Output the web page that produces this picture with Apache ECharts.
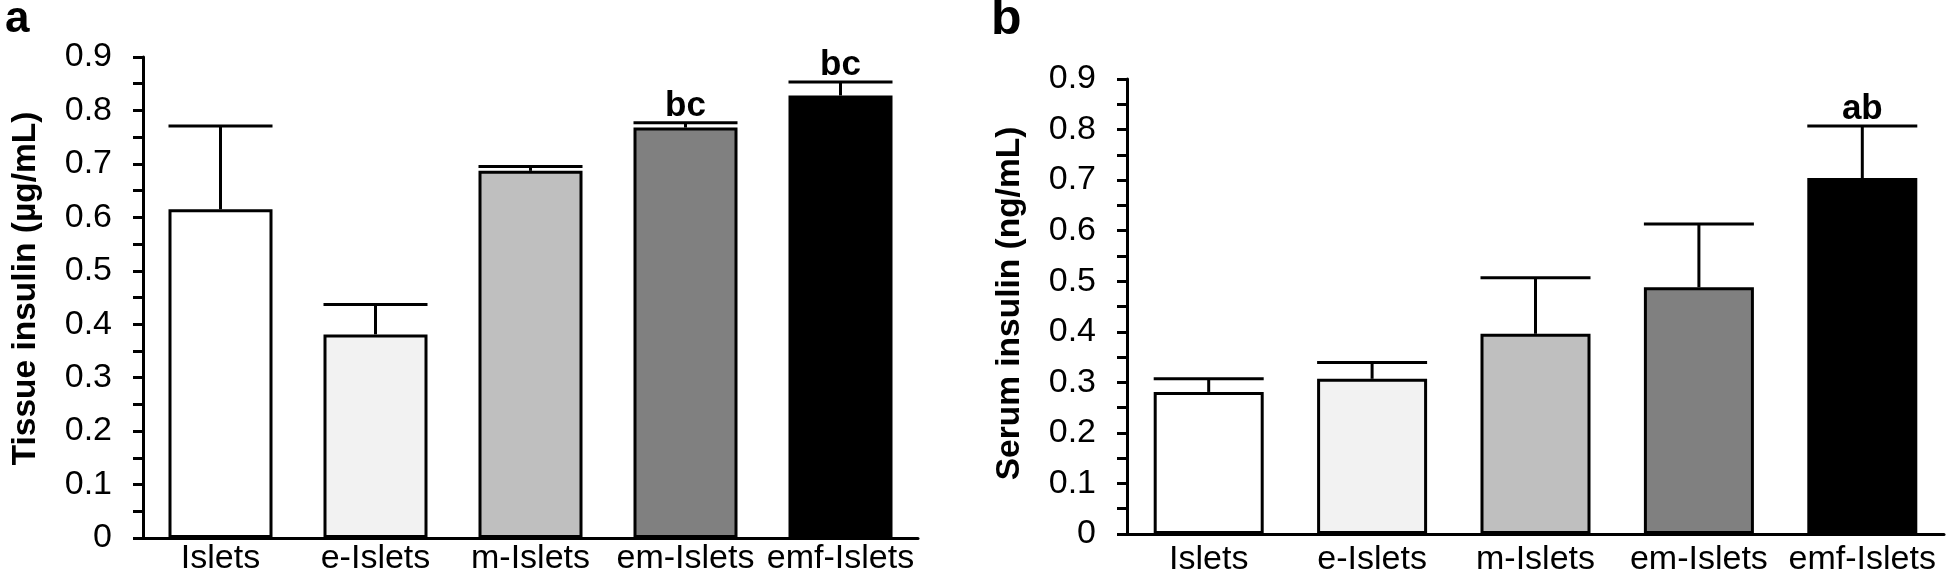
<!DOCTYPE html>
<html>
<head>
<meta charset="utf-8">
<script src="https://cdn.jsdelivr.net/npm/echarts@6/dist/echarts.min.js"></script>
<style>html,body{margin:0;padding:0;background:#fff;}#c{width:1946px;height:582px;}</style>
</head>
<body>
<div id="c"></div>
<script>
const categories = ['Islets', 'e-Islets', 'm-Islets', 'em-Islets', 'emf-Islets'];
const barColors = ['#ffffff', '#f2f2f2', '#bfbfbf', '#808080', '#000000'];
const yTicksMax = 0.9;
const yTickStep = 0.1;

// Panel a: tissue insulin (µg/mL)
const tissueMean = [0.615, 0.381, 0.687, 0.768, 0.828];
const tissueErr  = [0.156, 0.056, 0.008, 0.009, 0.025];
const tissueSig  = ['', '', '', 'bc', 'bc'];

// Panel b: serum insulin (ng/mL)
const serumMean = [0.281, 0.307, 0.396, 0.488, 0.704];
const serumErr  = [0.026, 0.032, 0.111, 0.125, 0.103];
const serumSig  = ['', '', '', '', 'ab'];

const FONT = "'Liberation Sans', Arial, Helvetica, sans-serif";

function barData(vals) {
  return vals.map((v, i) => ({
    value: v,
    itemStyle: { color: barColors[i], borderColor: '#000', borderWidth: 3 }
  }));
}

function errSeries(gi, means, errs, sigs, bw) {
  return {
    type: 'custom',
    xAxisIndex: gi, yAxisIndex: gi,
    z: 5,
    data: means.map((m, i) => [i, m, errs[i]]),
    encode: { x: 0, y: 1 },
    renderItem: function (params, api) {
      const base = api.coord([api.value(0), api.value(1)]);
      const top = api.coord([api.value(0), api.value(1) + api.value(2)]);
      const h = bw / 2;
      const st = { stroke: '#000', lineWidth: 3 };
      const children = [
        { type: 'line', shape: { x1: base[0], y1: base[1], x2: base[0], y2: top[1] }, style: st },
        { type: 'line', shape: { x1: base[0] - h, y1: top[1], x2: base[0] + h, y2: top[1] }, style: st }
      ];
      const s = sigs[params.dataIndex];
      if (s) {
        children.push({
          type: 'text',
          style: {
            text: s, x: base[0], y: top[1] + 1,
            align: 'center', verticalAlign: 'bottom',
            font: 'bold 35px ' + FONT, fill: '#000'
          }
        });
      }
      return { type: 'group', children: children };
    }
  };
}

function yAxisDef(gi, name, pad) {
  return {
    type: 'value', gridIndex: gi, min: 0, max: yTicksMax, interval: yTickStep,
    name: name, nameLocation: 'middle', nameGap: 100,
    nameTextStyle: { fontFamily: FONT, fontWeight: 'bold', fontSize: 33.5, color: '#000', padding: pad },
    axisLine: { show: true, lineStyle: { color: '#000', width: 3 } },
    axisTick: { show: true, length: 10, lineStyle: { color: '#000', width: 3 } },
    minorTick: { show: true, splitNumber: 2, length: 10, lineStyle: { color: '#000', width: 3 } },
    splitLine: { show: false },
    axisLabel: { fontFamily: FONT, fontSize: 34, color: '#000', margin: 31 }
  };
}

function xAxisDef(gi, margin) {
  return {
    type: 'category', gridIndex: gi, data: categories,
    axisLine: { show: true, lineStyle: { color: '#000', width: 3 } },
    axisTick: { show: false },
    axisLabel: { fontFamily: FONT, fontSize: 34, color: '#000', margin: margin, interval: 0 }
  };
}

const chart = echarts.init(document.getElementById('c'), null, { renderer: 'canvas' });
chart.setOption({
  animation: false,
  backgroundColor: '#fff',
  grid: [
    { left: 143, top: 57, width: 775, height: 481 },
    { left: 1127, top: 79, width: 817, height: 455 }
  ],
  xAxis: [xAxisDef(0, 4), xAxisDef(1, 9)],
  yAxis: [yAxisDef(0, 'Tissue insulin (µg/mL)', [0, 0, 0, 18]), yAxisDef(1, 'Serum insulin (ng/mL)', [0, 0, 0, 6])],
  graphic: [
    { type: 'text', left: 5, top: -2, style: { text: 'a', font: 'bold 44px ' + FONT, fill: '#000' } },
    { type: 'text', left: 991, top: -5, style: { text: 'b', font: 'bold 50px ' + FONT, fill: '#000' } }
  ],
  series: [
    { type: 'bar', xAxisIndex: 0, yAxisIndex: 0, barWidth: 104, data: barData(tissueMean) },
    errSeries(0, tissueMean, tissueErr, tissueSig, 104),
    { type: 'bar', xAxisIndex: 1, yAxisIndex: 1, barWidth: 110, data: barData(serumMean) },
    errSeries(1, serumMean, serumErr, serumSig, 110)
  ]
});
</script>
</body>
</html>
